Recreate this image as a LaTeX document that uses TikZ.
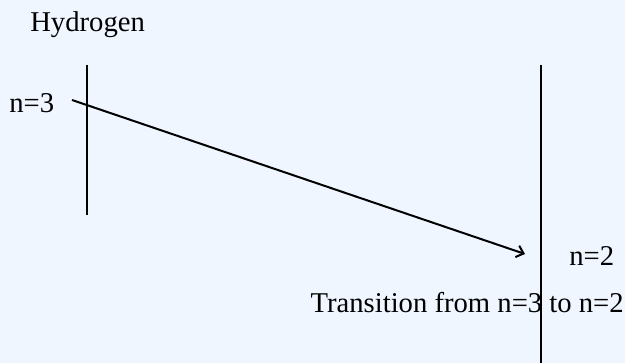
\documentclass[tikz,border=0pt]{standalone}
\usepackage{fontspec}
\setmainfont{Liberation Serif}
\usetikzlibrary{arrows.meta}
\definecolor{bgblue}{HTML}{F0F6FF}
\begin{document}
\begin{tikzpicture}[x=0.75pt,y=-0.75pt,
  lbl/.style={inner sep=0pt,font=\fontsize{21.5}{25}\selectfont},
  bar/.style={draw=black,line width=1.5pt},
  trans/.style={draw=black,line width=1.5pt,-{Straight Barb[length=5pt,width=9pt]}}]
\fill[bgblue] (0,0) rectangle (625,363);
\useasboundingbox (0,0) rectangle (625,363);
\node[lbl,anchor=west] (h) at (30,25) {Hydrogen};
\coordinate (l1) at (87,65);
\coordinate (l2) at (87,215);
\draw[bar] (l1) -- (l2);
\coordinate (r1) at (541,65);
\coordinate (r2) at (541,363);
\draw[bar] (r1) -- (r2);
\node[lbl,anchor=west] (n3) at (9,103) {n=3};
\node[lbl,anchor=west] (n2) at (569,256) {n=2};
\node[lbl,anchor=east] (t) at (624,303) {Transition from n=3 to n=2};
\coordinate (a) at (72,100);
\coordinate (b) at (525,254);
\draw[trans] (a) -- (b);
\end{tikzpicture}
\end{document}
